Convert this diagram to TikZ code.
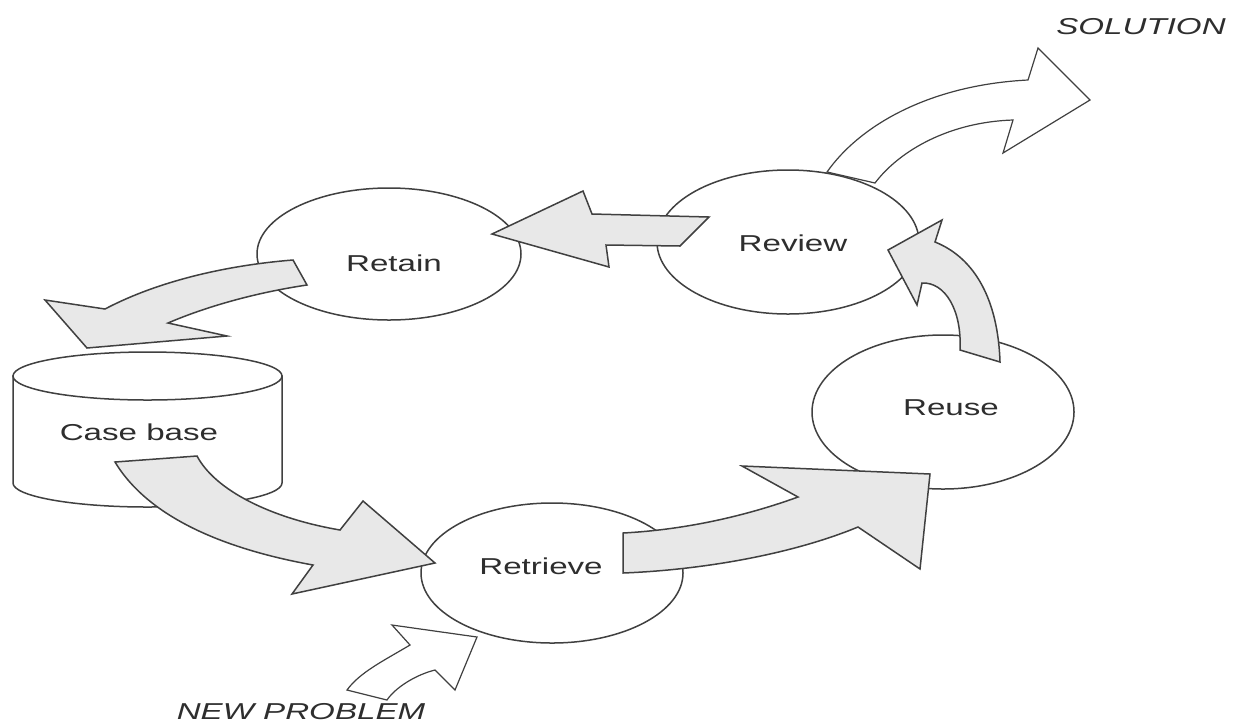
\documentclass[tikz,border=0pt]{standalone}
\usepackage{fontspec}
\usepackage{graphicx}
\setmainfont{Liberation Sans}
\usetikzlibrary{shapes.geometric}

% labels are set in a horizontally widened sans face
\newcommand{\widetext}[1]{\scalebox{1.44}[1]{#1}}

\definecolor{inkline}{HTML}{404040}
\definecolor{inktext}{HTML}{2E2E2E}
\definecolor{blockfill}{HTML}{E8E8E8}

\tikzset{
  stage/.style={ellipse, draw=inkline, line width=0.75pt, fill=white, inner sep=0pt},
  stagetext/.style={text=inktext, inner sep=0pt, font=\fontsize{11.5}{13}\selectfont},
  outtext/.style={text=inktext, inner sep=0pt, font=\fontsize{11.5}{13}\selectfont\itshape},
  flow/.style={draw=inkline, line width=0.75pt, line join=miter, fill=blockfill},
  io/.style={draw=inkline, line width=0.6pt, line join=miter, fill=white},
  drum/.style={draw=inkline, line width=0.75pt, fill=white},
}

\begin{document}
\begin{tikzpicture}[x=0.5pt, y=-0.5pt]
\useasboundingbox (0,0) rectangle (1245,724);
\fill[white] (0,0) rectangle (1245,724);

% ---- case base (cylinder) ----
\path[drum] (13,376) -- (13,483)
  .. controls (13,496.3) and (73.2,507) .. (147.5,507)
  .. controls (221.8,507) and (282,496.3) .. (282,483)
  -- (282,376) -- cycle;
\path[drum] (147.5,376) ellipse [x radius=134.5, y radius=24];
\node[stagetext] (casebase) at (139,432) {\widetext{Case base}};

% ---- the four stages ----
\node[stage, minimum width=132pt, minimum height=66pt] (retain)   at (389,254) {};
\node[stage, minimum width=131pt, minimum height=72pt] (review)   at (788,242) {};
\node[stage, minimum width=131pt, minimum height=77pt] (reuse)    at (943,412) {};
\node[stage, minimum width=131pt, minimum height=70pt] (retrieve) at (552,573) {};

\node[stagetext] (retaintext)   at (394,263) {\widetext{Retain}};
\node[stagetext] (reviewtext)   at (793,243) {\widetext{Review}};
\node[stagetext] (reusetext)    at (951,408) {\widetext{Reuse}};
\node[stagetext] (retrievetext) at (541,566) {\widetext{Retrieve}};

% ---- block arrows of the cycle ----
% retain -> case base
\path[flow] (293,260) .. controls (230,265) and (160,280) .. (105,309)
  -- (45,300) -- (87,348) -- (227,336) -- (168,323)
  .. controls (210,305) and (260,292) .. (307,285) -- cycle;

% case base -> retrieve
\path[flow] (115,462) -- (197,456)
  .. controls (215,490) and (270,518) .. (340,530)
  -- (363,501) -- (435,563) -- (292,594) -- (313,565)
  .. controls (230,550) and (150,520) .. (115,462) -- cycle;

% retrieve -> reuse
\path[flow] (623,573) -- (623,533)
  .. controls (680,530) and (740,518) .. (798,497)
  -- (742,466) -- (930,474) -- (920,569) -- (858,527)
  .. controls (790,555) and (700,570) .. (623,573) -- cycle;

% reuse -> review
\path[flow] (960,350) .. controls (962,310) and (945,282) .. (922,283)
  -- (917,305) -- (888,250) -- (942,220) -- (935,242)
  .. controls (975,258) and (998,300) .. (1000,362) -- cycle;

% review -> retain
\path[flow] (709,217) -- (592,214) -- (583,191) -- (492,234)
  -- (609,267) -- (606,245) -- (680,246) -- cycle;

% ---- input and output ----
\path[io] (827,172) .. controls (860,125) and (930,85) .. (1028,80)
  -- (1038,48) -- (1090,100) -- (1003,153) -- (1013,120)
  .. controls (950,122) and (900,150) .. (875,183) -- cycle;
\node[outtext] (solution) at (1141,27) {\widetext{SOLUTION}};

\path[io] (347,690) .. controls (360,672) and (385,660) .. (410,645)
  -- (392,625) -- (477,637) -- (455,690) -- (435,670)
  .. controls (415,675) and (395,688) .. (387,700) -- cycle;
\node[outtext] (newproblem) at (301,712) {\widetext{NEW PROBLEM}};
\end{tikzpicture}
\end{document}
